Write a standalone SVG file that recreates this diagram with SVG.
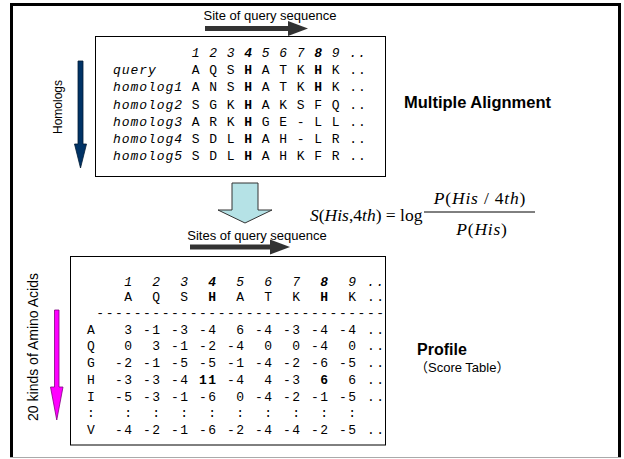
<svg xmlns="http://www.w3.org/2000/svg" width="624" height="459" viewBox="0 0 624 459">
<style>
.mono{font-family:"Liberation Mono","DejaVu Sans Mono",monospace;font-size:13px;white-space:pre;fill:#000}
.t{letter-spacing:0.95px}
.b{letter-spacing:1.53px}
.it{font-style:italic}
.bd{font-weight:bold}
.sans{font-family:"Liberation Sans",Arial,sans-serif;fill:#000}
.math{font-family:"Liberation Serif","Times New Roman",serif;font-size:17.5px;fill:#000;white-space:pre}
</style>
<rect x="0" y="0" width="624" height="459" fill="#fff"/>
<g id="frame">
<path d="M11.5 457 V4.5 H619.5 V457" fill="none" stroke="#000" stroke-width="3"/>
<line x1="10" y1="457.5" x2="621" y2="457.5" stroke="#aaa" stroke-width="1"/>
</g>
<g id="connectors">
<g id="site-arrow-top" fill="#333">
<rect x="205" y="26" width="85" height="5"/>
<polygon points="288,21 308,28.5 288,36"/>
</g>
<g id="site-arrow-bottom" fill="#333">
<rect x="190" y="244.5" width="82" height="5"/>
<polygon points="270,239.5 290,247 270,254.5"/>
</g>
<g id="homologs-arrow">
<polygon points="78,61 83,61 83,144 86.5,144 80.5,168 74.5,144 78,144" fill="#003366" stroke="#001a33" stroke-width="0.8"/>
</g>
<g id="down-arrow">
<polygon points="232,183 258,183 258,210 272,210 245,223 218,210 232,210" fill="#b5e2e6" stroke="#333" stroke-width="1"/>
</g>
<g id="amino-arrow">
<polygon points="54.5,310 59,310 59,387 63,387 56.75,420 50.5,387 54.5,387" fill="#ff00ff" stroke="#800080" stroke-width="0.8"/>
</g>
</g>
<g id="site-label-top">
<text class="sans" x="270" y="20" font-size="13" text-anchor="middle">Site of query sequence</text>
</g>
<g id="alignment">
<rect x="95.5" y="36.5" width="290" height="140" fill="#fff" stroke="#000" stroke-width="1"/>
<text class="mono t it" x="113" y="57">         1 2 3 <tspan class="bd">4</tspan> 5 6 7 <tspan class="bd">8</tspan> 9 ..</text>
<text class="mono t" x="113" y="74.2"><tspan class="it">query   </tspan> A Q S <tspan class="bd">H</tspan> A T K <tspan class="bd">H</tspan> K ..</text>
<text class="mono t" x="113" y="91.4"><tspan class="it">homolog1</tspan> A N S <tspan class="bd">H</tspan> A T K <tspan class="bd">H</tspan> K ..</text>
<text class="mono t" x="113" y="108.6"><tspan class="it">homolog2</tspan> S G K <tspan class="bd">H</tspan> A K S F Q ..</text>
<text class="mono t" x="113" y="125.8"><tspan class="it">homolog3</tspan> A R K <tspan class="bd">H</tspan> G E - L L ..</text>
<text class="mono t" x="113" y="143"><tspan class="it">homolog4</tspan> S D L <tspan class="bd">H</tspan> A H - L R ..</text>
<text class="mono t" x="113" y="160.2"><tspan class="it">homolog5</tspan> S D L <tspan class="bd">H</tspan> A H K F R ..</text>
</g>
<g id="homologs-label">
<text class="sans" font-size="12" text-anchor="middle" transform="translate(62,107) rotate(-90)">Homologs</text>
</g>
<g id="multiple-alignment-label">
<text class="sans" x="404" y="108" font-size="16.5" font-weight="bold">Multiple Alignment</text>
</g>
<g id="formula">
<text class="math" x="310" y="221"><tspan font-style="italic">S</tspan>(<tspan font-style="italic">His</tspan>,4<tspan font-style="italic">th</tspan>) = log</text>
<text class="math" x="480" y="204" text-anchor="middle" letter-spacing="0.8"><tspan font-style="italic">P</tspan>(<tspan font-style="italic">His</tspan> / 4<tspan font-style="italic">th</tspan>)</text>
<line x1="424" y1="212" x2="535" y2="212" stroke="#000" stroke-width="1"/>
<text class="math" x="482" y="235" text-anchor="middle" letter-spacing="0.8"><tspan font-style="italic">P</tspan>(<tspan font-style="italic">His</tspan>)</text>
</g>
<g id="site-label-bottom">
<text class="sans" x="257" y="240" font-size="13" text-anchor="middle">Sites of query sequence</text>
</g>
<g id="profile">
<rect x="70.5" y="256.5" width="315" height="188.5" fill="#fff" stroke="#000" stroke-width="1"/>
<text class="mono b it" x="87" y="285.5">    1  2  3  <tspan class="bd">4</tspan>  5  6  7  <tspan class="bd">8</tspan>  9 ..</text>
<text class="mono b" x="87" y="300.5">    A  Q  S  <tspan class="bd">H</tspan>  A  T  K  <tspan class="bd">H</tspan>  K ..</text>
<text class="mono b" x="87" y="317"> -------------------------------</text>
<text class="mono b" x="87" y="333.5">A   3 -1 -3 -4  6 -4 -3 -4 -4 ..</text>
<text class="mono b" x="87" y="349.5">Q   0  3 -1 -2 -4  0  0 -4  0 ..</text>
<text class="mono b" x="87" y="366.5">G  -2 -1 -5 -5 -1 -4 -2 -6 -5 ..</text>
<text class="mono b" x="87" y="383.5">H  -3 -3 -4 <tspan class="bd">11</tspan> -4  4 -3  <tspan class="bd">6</tspan>  6 ..</text>
<text class="mono b" x="87" y="400.5">I  -5 -3 -1 -6  0 -4 -2 -1 -5 ..</text>
<text class="mono b" x="87" y="416.5">:   :  :  :  :  :  :  :  :  :</text>
<text class="mono b" x="87" y="434">V  -4 -2 -1 -6 -2 -4 -4 -2 -5 ..</text>
</g>
<g id="amino-label">
<text class="sans" font-size="14" text-anchor="middle" transform="translate(38,347) rotate(-90)">20 kinds of Amino Acids</text>
</g>
<g id="profile-label">
<text class="sans" x="417" y="355" font-size="16" font-weight="bold">Profile</text>
<text x="415" y="372" font-size="13" style="font-family:'Liberation Sans','Noto Sans CJK JP',sans-serif">（Score Table）</text>
</g>
</svg>
